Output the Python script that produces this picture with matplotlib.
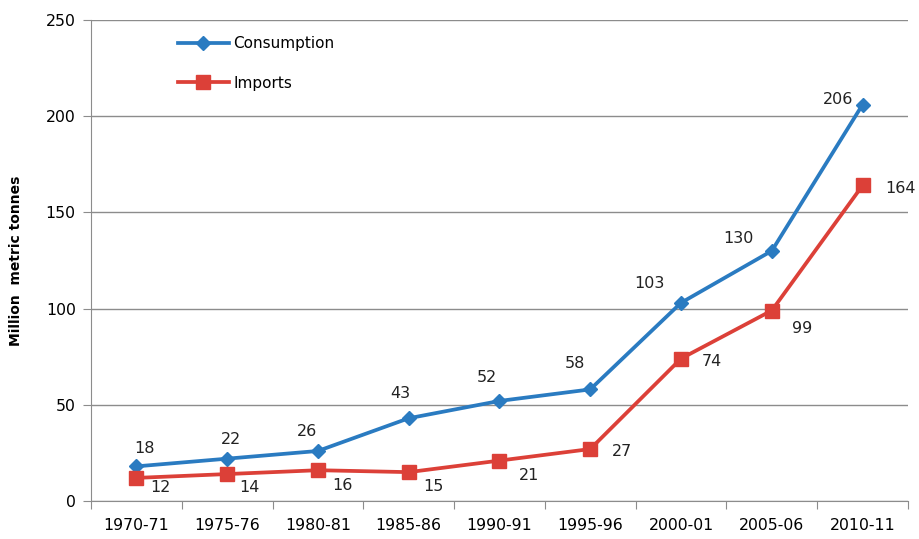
import matplotlib
matplotlib.use('Agg')
import matplotlib.pyplot as plt
import numpy as np

years = ['1970-71', '1975-76', '1980-81', '1985-86', '1990-91',
         '1995-96', '2000-01', '2005-06', '2010-11']
consumption = [18, 22, 26, 43, 52, 58, 103, 130, 206]
imports = [12, 14, 16, 15, 21, 27, 74, 99, 164]

# label offsets in points (style only)
cons_off = [(6, 13), (3, 14), (-8, 14), (-6, 18), (-9, 17), (-11, 19), (-23, 14), (-24, 9), (-18, 4)]
imp_off = [(17, -7), (16, -10), (18, -11), (18, -10), (21, -11), (23, -1.5), (22, -2), (22, -13), (27, -2)]

blue = '#2a7bc1'
red = '#dc4038'

plt.rcParams['font.family'] = ['DejaVu Sans']

fig = plt.figure(figsize=(9.19, 5.39), dpi=100)
ax = fig.add_axes([0.099, 0.0705, 0.889, 0.8925])

x = np.arange(len(years))
ax.plot(x, consumption, color=blue, lw=2.7, marker='D', ms=7, label='Consumption', zorder=3)
ax.plot(x, imports, color=red, lw=2.7, marker='s', ms=10, label='Imports', zorder=3)

for i in range(len(x)):
    ax.annotate(str(consumption[i]), (x[i], consumption[i]), xytext=cons_off[i],
                textcoords='offset points', ha='center', va='center', fontsize=11.5, color='#222222')
    ax.annotate(str(imports[i]), (x[i], imports[i]), xytext=imp_off[i],
                textcoords='offset points', ha='center', va='center', fontsize=11.5, color='#222222')

ax.set_xlim(-0.5, 8.5)
ax.set_ylim(0, 250)
ax.set_yticks(range(0, 251, 50))
ax.yaxis.grid(True, color='#8c8c8c', lw=1)
ax.set_axisbelow(True)

ax.set_xticks(np.arange(-0.5, 9, 1))
ax.set_xticklabels([])
ax.set_xticks(x, minor=True)
ax.set_xticklabels(years, minor=True, fontsize=11.3)
ax.tick_params(axis='x', which='major', length=6, color='#8c8c8c')
ax.tick_params(axis='x', which='minor', length=0, pad=12)
ax.tick_params(axis='y', length=6, color='#8c8c8c', labelsize=11.3, pad=5)

for s in ['top', 'right']:
    ax.spines[s].set_visible(False)
for s in ['left', 'bottom']:
    ax.spines[s].set_color('#8c8c8c')

ax.set_ylabel('Million  metric tonnes', fontsize=10, fontweight='bold', labelpad=16)

ax.legend(loc='upper left', bbox_to_anchor=(0.09, 0.995), frameon=False, fontsize=11,
          labelspacing=1.6, handlelength=3.3, handletextpad=0.3)

fig.savefig('out.png', dpi=100)
